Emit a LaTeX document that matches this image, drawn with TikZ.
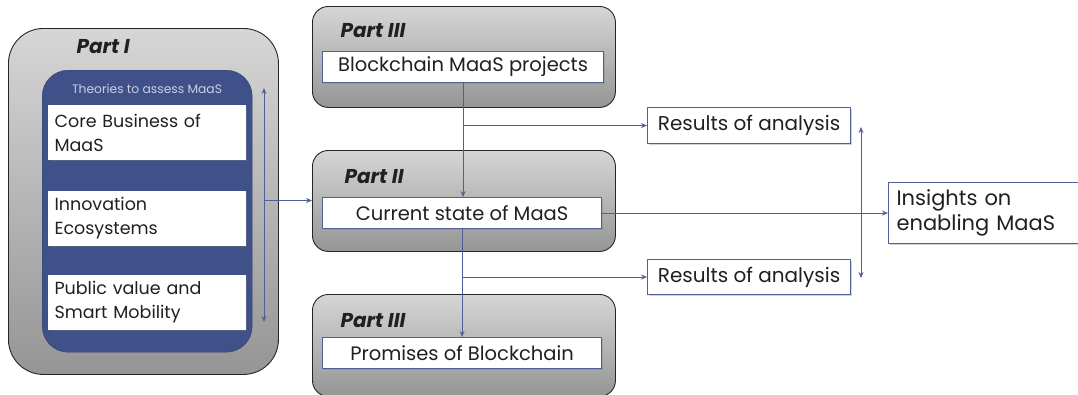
\documentclass[tikz,border=0pt]{standalone}
\usepackage{fontspec}
\setmainfont{Poppins}
\usetikzlibrary{arrows.meta,shadows}
\definecolor{lineblue}{HTML}{4F6194}
\definecolor{fillblue}{HTML}{3F5188}
\definecolor{gtop}{HTML}{D6D6D6}
\definecolor{gbot}{HTML}{959595}
\definecolor{paletext}{HTML}{C8CEE6}
\definecolor{txt}{HTML}{202020}
\begin{document}
\begin{tikzpicture}[x=1pt,y=-1pt,
  partbox/.style={draw=black!85, line width=0.9pt, top color=gtop, bottom color=gbot, anchor=north west, inner sep=0pt},
  wbox/.style={draw=lineblue, fill=white, line width=1.1pt, anchor=north west, inner sep=0pt, text=txt,
    drop shadow={opacity=0.35, shadow xshift=1.5pt, shadow yshift=-1.5pt}},
  theorybox/.style={wbox, draw=white, text width=185pt, inner xsep=6pt, align=left, minimum height=54pt,
    font=\fontsize{17.5}{24}\selectfont},
  parttitle/.style={anchor=west, text=txt, font=\fontsize{20}{24}\selectfont\bfseries\itshape},
  conn/.style={draw=lineblue, line width=1pt, -{Stealth[length=6pt,width=5pt]}},
  dbl/.style={draw=lineblue, line width=1pt, {Stealth[length=6pt,width=5pt]}-{Stealth[length=6pt,width=5pt]}}]
\useasboundingbox (0,0) rectangle (1078,394);

% Part I
\node[partbox, rounded corners=35pt, minimum width=270pt, minimum height=346pt] (p1) at (8,28) {};
\node[parttitle] (p1t) at (73,47) {Part I};
\node[anchor=north west, inner sep=0pt, fill=fillblue, draw=fillblue!80!black, rounded corners=26pt,
  minimum width=210pt, minimum height=282pt] (blue) at (42,70) {};
\node[text=paletext, font=\fontsize{12.3}{14}\selectfont] (theo) at (147,89) {Theories to assess MaaS};
\node[theorybox] (cb) at (48,105) {Core Business of\\MaaS};
\node[theorybox] (ie) at (48,191) {Innovation\\Ecosystems};
\node[theorybox] (pv) at (48,275) {Public value and\\Smart Mobility};

% Part III top
\node[partbox, rounded corners=16pt, minimum width=303pt, minimum height=101pt] (p3a) at (312,6) {};
\node[parttitle] (p3at) at (337,31) {Part III};
\node[wbox, minimum width=281pt, minimum height=31pt, font=\fontsize{19.5}{22}\selectfont] (bm) at (322,51) {Blockchain MaaS projects};

% Part II
\node[partbox, rounded corners=16pt, minimum width=303pt, minimum height=101pt] (p2) at (312,150) {};
\node[parttitle] (p2t) at (341,177) {Part II};
\node[wbox, minimum width=279pt, minimum height=31pt, font=\fontsize{19.5}{22}\selectfont] (cs) at (322,197) {Current state of MaaS};

% Part III bottom
\node[partbox, rounded corners=16pt, minimum width=303pt, minimum height=102pt] (p3b) at (312,294) {};
\node[parttitle] (p3bt) at (337,321) {Part III};
\node[wbox, minimum width=279pt, minimum height=31pt, font=\fontsize{19.5}{22}\selectfont] (pb) at (322,337) {Promises of Blockchain};

% Results
\node[wbox, minimum width=203pt, minimum height=36pt, font=\fontsize{20}{23}\selectfont] (r1) at (647,107) {Results of analysis};
\node[wbox, minimum width=203pt, minimum height=35pt, font=\fontsize{20}{23}\selectfont] (r2) at (647,259) {Results of analysis};

% Insights
\node[wbox, text width=190pt, inner xsep=8pt, align=left, minimum height=61pt, font=\fontsize{21}{25}\selectfont] (ins) at (888,182) {Insights on\\enabling MaaS};

% connectors
\coordinate (ta) at (264,88);
\coordinate (tb) at (264,322);
\draw[dbl] (ta) -- (tb);
\coordinate (tj) at (264,200.5);
\draw[conn] (tj) -- (tj -| p2.west);

\coordinate (j1) at (bm.south |- r1.west);
\draw[conn] (bm.south) -- (bm.south |- cs.north);
\draw[conn] (j1) -- (r1.west);
\coordinate (j2) at (cs.south |- r2.west);
\draw[conn] (cs.south) -- (cs.south |- pb.north);
\draw[conn] (j2) -- (r2.west);

\draw[conn] (cs.east) -- (cs.east -| ins.west);
\coordinate (da) at (861,127);
\coordinate (db) at (861,278);
\draw[dbl] (da) -- (db);
\end{tikzpicture}
\end{document}
